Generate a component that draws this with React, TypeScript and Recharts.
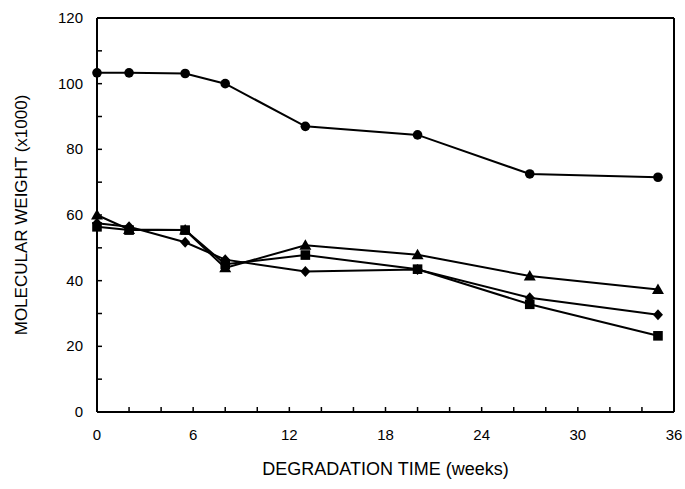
import React from 'react';
import { LineChart, Line, XAxis, YAxis, ReferenceLine } from 'recharts';

const weeks = [0, 2, 5.5, 8, 13, 20, 27, 35];
const circleSeries = [103.3, 103.3, 103.1, 100, 87, 84.4, 72.5, 71.5];
const triangleSeries = [60, 55.6, 55.4, 43.9, 50.8, 47.9, 41.4, 37.3];
const squareSeries = [56.4, 55.4, 55.4, 45, 47.8, 43.5, 32.8, 23.2];
const diamondSeries = [57.5, 56.4, 51.7, 46.4, 42.8, 43.4, 34.8, 29.6];
const xTicks = [0, 2, 4, 6, 8, 10, 12, 14, 16, 18, 20, 22, 24, 26, 28, 30, 32, 34, 36];
const yTicks = [0, 10, 20, 30, 40, 50, 60, 70, 80, 90, 100, 110, 120];
const xLabel = 'DEGRADATION TIME (weeks)';
const yLabel = 'MOLECULAR WEIGHT (x1000)';

const data = weeks.map((w, i) => ({
  week: w,
  circle: circleSeries[i],
  triangle: triangleSeries[i],
  square: squareSeries[i],
  diamond: diamondSeries[i],
}));

const FONT = '"Liberation Sans", Arial, sans-serif';

const XTick = (props: any) => {
  const { x, y, payload } = props;
  const v = payload.value;
  return (
    <g>
      <line x1={x} y1={y} x2={x} y2={y - 5} stroke="#000" strokeWidth={1.5} />
      {v % 6 === 0 && (
        <text x={x} y={y + 28} textAnchor="middle" fontSize={15} fontFamily={FONT} fill="#000">
          {v}
        </text>
      )}
    </g>
  );
};

const YTick = (props: any) => {
  const { x, y, payload } = props;
  const v = payload.value;
  return (
    <g>
      <line x1={x} y1={y} x2={x + 5} y2={y} stroke="#000" strokeWidth={1.5} />
      {v % 20 === 0 && (
        <text x={x - 14} y={y + 5} textAnchor="end" fontSize={15} fontFamily={FONT} fill="#000">
          {v}
        </text>
      )}
    </g>
  );
};

const CircleDot = (p: any) => <circle key={p.index} cx={p.cx} cy={p.cy} r={4.8} fill="#000" />;
const TriangleDot = (p: any) => (
  <polygon key={p.index} points={`${p.cx},${p.cy - 6} ${p.cx - 6},${p.cy + 4.5} ${p.cx + 6},${p.cy + 4.5}`} fill="#000" />
);
const SquareDot = (p: any) => <rect key={p.index} x={p.cx - 4.8} y={p.cy - 4.8} width={9.6} height={9.6} fill="#000" />;
const DiamondDot = (p: any) => (
  <polygon key={p.index} points={`${p.cx},${p.cy - 5.5} ${p.cx + 5},${p.cy} ${p.cx},${p.cy + 5.5} ${p.cx - 5},${p.cy}`} fill="#000" />
);

export default function App() {
  return (
    <div style={{ position: 'absolute', left: 0, top: 0, background: '#fff' }}>
      <LineChart width={685} height={489} data={data} margin={{ top: 18, right: 11, bottom: 0, left: 17 }}>
        <XAxis
          dataKey="week"
          type="number"
          domain={[0, 36]}
          ticks={xTicks}
          interval={0}
          tickSize={0}
          tickMargin={0}
          tickLine={false}
          tick={<XTick />}
          height={77}
          axisLine={{ stroke: '#000', strokeWidth: 2 }}
          label={{ value: xLabel, position: 'insideBottom', offset: 14, fontSize: 18, fontFamily: FONT, fill: '#000' }}
        />
        <YAxis
          type="number"
          domain={[0, 120]}
          ticks={yTicks}
          interval={0}
          tickSize={0}
          tickMargin={0}
          tickLine={false}
          tick={<YTick />}
          width={80}
          axisLine={{ stroke: '#000', strokeWidth: 2 }}
          label={{ value: yLabel, angle: -90, position: 'insideLeft', offset: 4, fontSize: 17, fontFamily: FONT, fill: '#000', style: { textAnchor: 'middle' } }}
        />
        <ReferenceLine y={120} stroke="#000" strokeWidth={2} />
        <ReferenceLine x={36} stroke="#000" strokeWidth={2} />
        <Line dataKey="circle" stroke="#000" strokeWidth={2} dot={CircleDot} isAnimationActive={false} />
        <Line dataKey="diamond" stroke="#000" strokeWidth={2} dot={DiamondDot} isAnimationActive={false} />
        <Line dataKey="square" stroke="#000" strokeWidth={2} dot={SquareDot} isAnimationActive={false} />
        <Line dataKey="triangle" stroke="#000" strokeWidth={2} dot={TriangleDot} isAnimationActive={false} />
      </LineChart>
    </div>
  );
}
